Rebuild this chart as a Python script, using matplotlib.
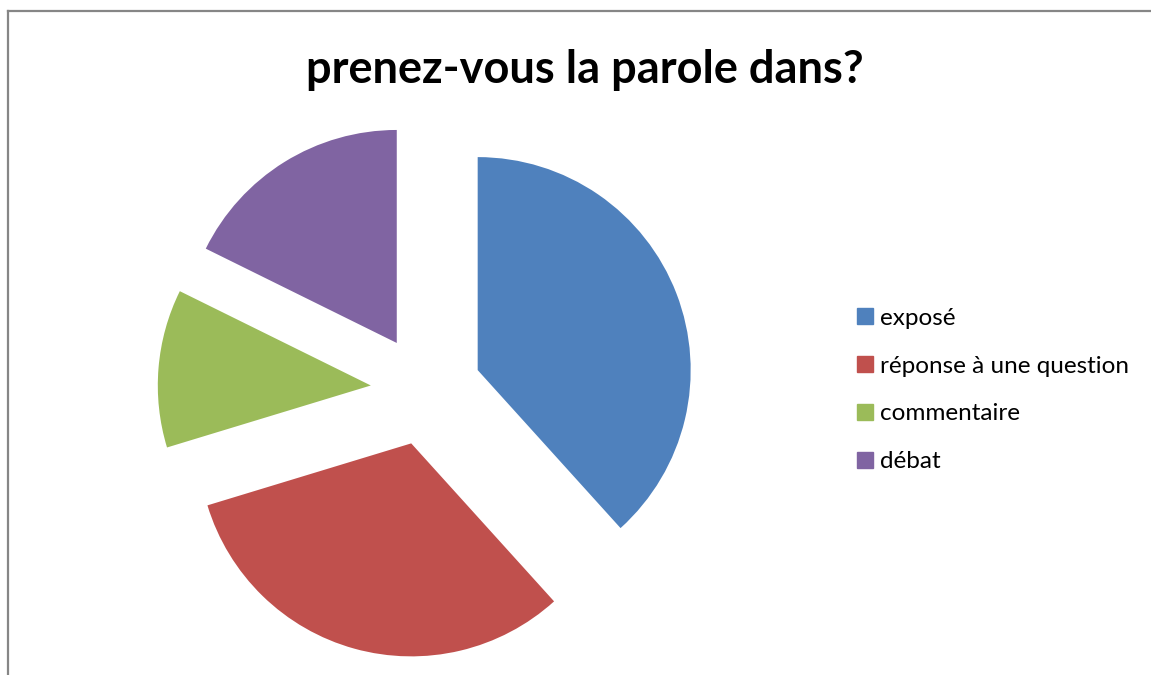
import matplotlib
matplotlib.use("Agg")
import matplotlib.pyplot as plt
from matplotlib.lines import Line2D

title = "prenez-vous la parole dans?"
categories = ["exposé", "réponse à une question", "commentaire", "débat"]
values = [38.3, 32.0, 12.0, 17.7]
colors = ["#4F81BD", "#C0504D", "#9BBB59", "#8064A2"]
explode = [0.26, 0.26, 0.26, 0.26]

W, H = 1151, 675
fig = plt.figure(figsize=(W / 100, H / 100), dpi=100)
fig.patch.set_facecolor("white")

# pie axes: centre at (426, 390) px from top-left, radius 213 px
R = 213.0
lim = 1.3
side = 2 * lim * R
cx, cy = 426.0, H - 390.0
ax = fig.add_axes([(cx - side / 2) / W, (cy - side / 2) / H, side / W, side / H])
wedges, _ = ax.pie(values, colors=colors, explode=explode, startangle=90,
                   counterclock=False, radius=1.0,
                   wedgeprops=dict(linewidth=0))
ax.set_xlim(-lim, lim)
ax.set_ylim(-lim, lim)
ax.set_aspect("equal")
ax.axis("off")

fig.text(585 / W, 1 - 70 / H, title, ha="center", va="center",
         fontsize=32.5, fontweight="bold", family=["Lato", "DejaVu Sans"])

handles = [Line2D([], [], marker="s", linestyle="none", markersize=11,
                  markerfacecolor=c, markeredgecolor=c) for c in colors]
fig.legend(handles, categories, loc="center left",
           bbox_to_anchor=(857 / W, 1 - 390 / H), frameon=False,
           prop=dict(family=["Lato", "DejaVu Sans"], size=17.5),
           handlelength=0.66, handletextpad=0.27, labelspacing=1.1,
           borderpad=0, borderaxespad=0)

# chart-area border (top and left edges visible)
fig.add_artist(Line2D([8 / W, 1.0], [1 - 11 / H, 1 - 11 / H], color="#868686",
                      linewidth=1.6, transform=fig.transFigure))
fig.add_artist(Line2D([8 / W, 8 / W], [0.0, 1 - 11 / H], color="#868686",
                      linewidth=1.6, transform=fig.transFigure))

fig.savefig("out.png", dpi=100)
